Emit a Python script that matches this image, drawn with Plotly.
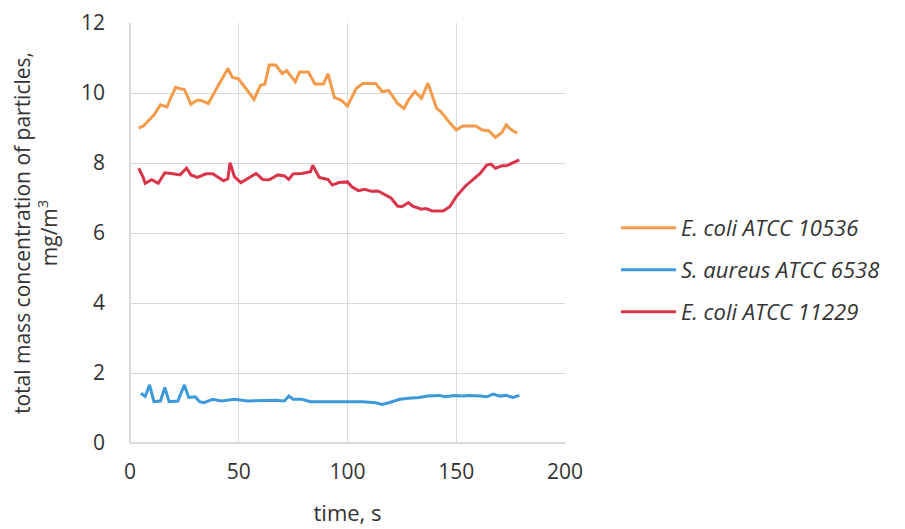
import plotly.graph_objects as go

# --- data ---
t_ecoli_10536 = [4, 6, 8, 11, 14, 17, 19, 21, 23, 25, 28, 31, 33, 36, 40, 43, 45, 47, 50, 53,
                 57, 60, 62, 64, 67, 70, 72, 76, 78, 82, 85, 89, 91, 94, 97, 100, 104, 107, 113, 116,
                 119, 123, 126, 128, 131, 134, 137, 141, 143, 147, 150, 153, 159, 162, 165, 168, 171, 173, 175, 178]
v_ecoli_10536 = [9.0, 9.05, 9.18, 9.37, 9.66, 9.6, 9.9, 10.16, 10.12, 10.1, 9.68, 9.8, 9.78, 9.7, 10.15, 10.5, 10.7, 10.45, 10.4, 10.15,
                 9.82, 10.22, 10.25, 10.8, 10.8, 10.55, 10.64, 10.32, 10.6, 10.6, 10.26, 10.26, 10.55, 9.87, 9.8, 9.63, 10.13, 10.27, 10.27, 10.04,
                 10.07, 9.7, 9.56, 9.8, 10.04, 9.85, 10.28, 9.56, 9.46, 9.15, 8.94, 9.06, 9.06, 8.94, 8.92, 8.73, 8.87, 9.09, 8.96, 8.85]

t_saureus_6538 = [5, 7, 9, 11, 14, 16, 18, 22, 25, 27, 30, 32, 34, 38, 42, 48, 54, 61, 67, 71,
                  73, 75, 79, 83, 88, 94, 101, 107, 113, 116, 119, 124, 128, 133, 137, 142, 145, 149, 153, 156,
                  161, 164, 167, 170, 173, 176, 179]
v_saureus_6538 = [1.42, 1.33, 1.66, 1.18, 1.2, 1.59, 1.18, 1.2, 1.66, 1.3, 1.32, 1.18, 1.15, 1.25, 1.2, 1.25, 1.2, 1.22, 1.22, 1.2,
                  1.34, 1.25, 1.25, 1.18, 1.18, 1.18, 1.17, 1.18, 1.15, 1.1, 1.15, 1.25, 1.28, 1.3, 1.34, 1.36, 1.32, 1.36, 1.34, 1.36,
                  1.34, 1.32, 1.4, 1.34, 1.36, 1.3, 1.36]

t_ecoli_11229 = [4, 6, 7, 10, 13, 16, 19, 23, 26, 28, 31, 35, 38, 43, 45, 46, 48, 51, 54, 58,
                 61, 64, 68, 71, 73, 75, 79, 83, 84, 87, 91, 93, 96, 100, 102, 105, 108, 111, 114, 118,
                 120, 123, 125, 128, 130, 134, 136, 139, 144, 147, 150, 154, 158, 161, 164, 166, 168, 171, 173, 176, 179]
v_ecoli_11229 = [7.85, 7.6, 7.42, 7.52, 7.42, 7.72, 7.7, 7.66, 7.85, 7.66, 7.59, 7.69, 7.69, 7.49, 7.55, 8.01, 7.61, 7.44, 7.55, 7.7,
                 7.53, 7.52, 7.66, 7.63, 7.53, 7.69, 7.7, 7.75, 7.94, 7.59, 7.53, 7.37, 7.44, 7.46, 7.32, 7.21, 7.25, 7.19, 7.2, 7.07,
                 7.0, 6.77, 6.75, 6.87, 6.77, 6.68, 6.7, 6.63, 6.63, 6.75, 7.04, 7.33, 7.53, 7.7, 7.94, 7.97, 7.85, 7.92, 7.92, 8.0, 8.09]

series_names = ["E. coli ATCC 10536", "S. aureus ATCC 6538", "E. coli ATCC 11229"]
x_ticks = [0, 50, 100, 150, 200]
y_ticks = [0, 2, 4, 6, 8, 10, 12]

FONT = "Open Sans"
TXT = "#333333"
colors = ["#F49B4B", "#3C9ADA", "#D9354A"]

fig = go.Figure()
data = [(t_ecoli_10536, v_ecoli_10536), (t_saureus_6538, v_saureus_6538), (t_ecoli_11229, v_ecoli_11229)]
legends = ["legend", "legend2", "legend3"]
for (tx, vy), name, c, lg in zip(data, series_names, colors, legends):
    fig.add_trace(go.Scatter(x=tx, y=vy, mode="lines", name=name, showlegend=True,
                             line=dict(color=c, width=3), legend=lg))

leg_common = dict(xref="container", yref="container", x=(616 - 8) / 905, xanchor="left", yanchor="middle",
                  bgcolor="rgba(0,0,0,0)", itemwidth=55,
                  font=dict(family=FONT, size=22, color=TXT, style="italic"))
fig.update_layout(
    width=905, height=529,
    paper_bgcolor="white", plot_bgcolor="white",
    showlegend=True,
    margin=dict(l=122, r=348, t=15, b=94, autoexpand=False),
    font=dict(family=FONT, size=21, color=TXT),
    legend=dict(**leg_common, y=1 - (228 - 8) / 529),
    legend2=dict(**leg_common, y=1 - (270 - 8) / 529),
    legend3=dict(**leg_common, y=1 - (312 - 8) / 529),
    xaxis=dict(range=[0, 200], tickvals=x_ticks, showgrid=True, gridcolor="#dadada", gridwidth=1,
               zeroline=True, zerolinecolor="#dadada", showline=False, ticks="", automargin=False,
               ticklabelstandoff=14,
               title=dict(text="time, s", font=dict(family=FONT, size=22, color=TXT), standoff=21)),
    yaxis=dict(range=[0, 12], tickvals=y_ticks, showgrid=True, gridcolor="#dadada", gridwidth=1,
               zeroline=True, zerolinecolor="#dadada", showline=False, ticks="", automargin=False,
               ticklabelstandoff=24,
               title=dict(text="total mass concentration of particles,<br>mg/m<sup>3</sup>",
                          font=dict(family=FONT, size=21, color=TXT), standoff=18)),
)
fig.write_html("out.html")
